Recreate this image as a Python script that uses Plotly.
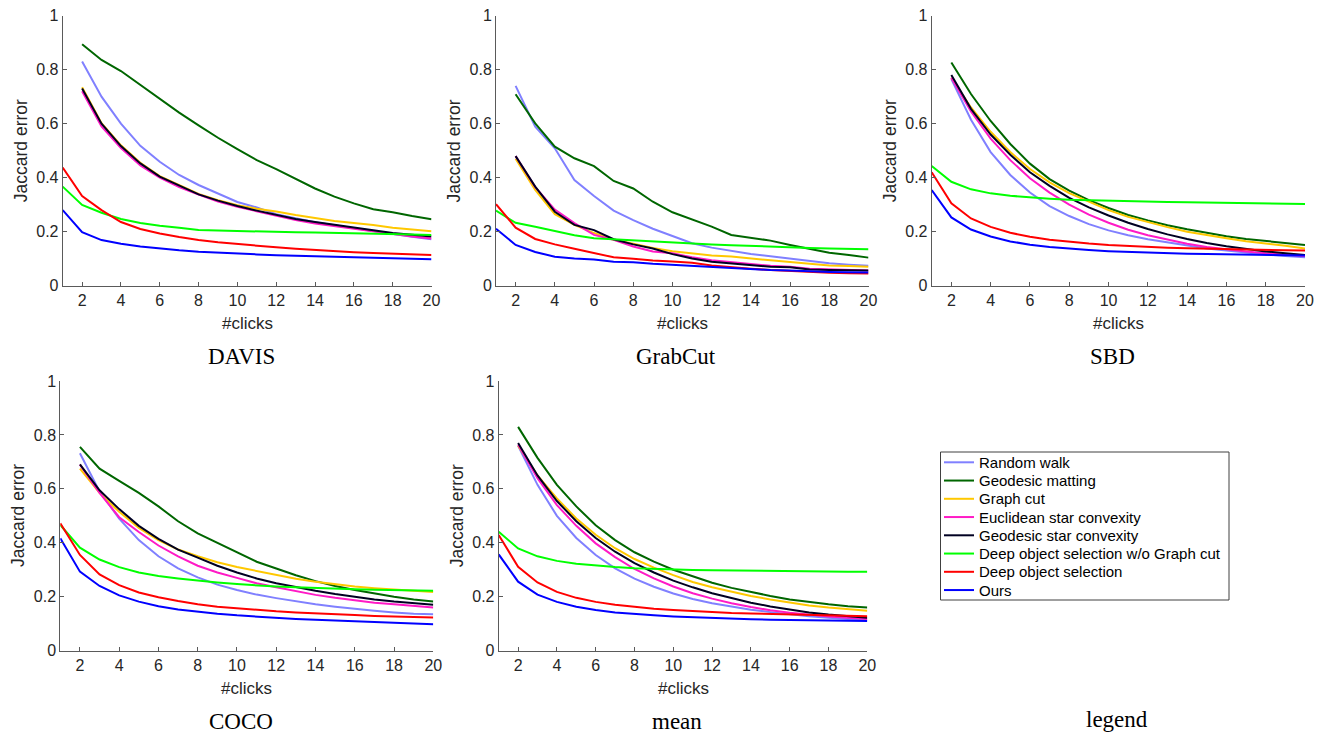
import plotly.graph_objects as go

clicks = list(range(1, 21))

methods = ["Random walk", "Geodesic matting", "Graph cut", "Euclidean star convexity",
           "Geodesic star convexity", "Deep object selection w/o Graph cut",
           "Deep object selection", "Ours"]
colors = ["#8080ff", "#006600", "#ffc800", "#ff1ac6", "#000022", "#00ff00", "#ff0000", "#0000ff"]

datasets = ["DAVIS", "GrabCut", "SBD", "COCO", "mean"]

N = None
# ---- DAVIS ----
davis_rw = [N, 0.83, 0.70, 0.60, 0.518, 0.459, 0.41, 0.373, 0.34, 0.31, 0.29, 0.265, 0.25, 0.235, 0.224, 0.213, 0.203, 0.192, 0.181, 0.172]
davis_gm = [N, 0.894, 0.836, 0.795, 0.743, 0.693, 0.641, 0.594, 0.548, 0.506, 0.465, 0.432, 0.395, 0.36, 0.33, 0.305, 0.283, 0.272, 0.258, 0.246]
davis_gc = [N, 0.735, 0.602, 0.52, 0.455, 0.406, 0.372, 0.34, 0.317, 0.298, 0.285, 0.275, 0.262, 0.25, 0.24, 0.232, 0.225, 0.215, 0.208, 0.202]
davis_esc = [N, 0.72, 0.59, 0.51, 0.445, 0.40, 0.365, 0.338, 0.312, 0.292, 0.275, 0.258, 0.243, 0.23, 0.22, 0.21, 0.20, 0.19, 0.182, 0.175]
davis_gsc = [N, 0.73, 0.60, 0.517, 0.453, 0.404, 0.37, 0.338, 0.315, 0.295, 0.278, 0.262, 0.247, 0.236, 0.225, 0.216, 0.205, 0.195, 0.188, 0.182]
davis_dosn = [0.367, 0.299, 0.27, 0.247, 0.232, 0.222, 0.215, 0.206, 0.204, 0.202, 0.201, 0.199, 0.198, 0.197, 0.196, 0.195, 0.194, 0.192, 0.19, 0.188]
davis_dos = [0.438, 0.332, 0.28, 0.236, 0.21, 0.193, 0.18, 0.169, 0.161, 0.154, 0.148, 0.142, 0.137, 0.132, 0.128, 0.124, 0.121, 0.118, 0.115, 0.114]
davis_ours = [0.28, 0.198, 0.169, 0.155, 0.145, 0.137, 0.131, 0.126, 0.122, 0.119, 0.116, 0.113, 0.111, 0.108, 0.106, 0.104, 0.102, 0.101, 0.099, 0.098]

# ---- GrabCut ----
grab_rw = [N, 0.74, 0.589, 0.509, 0.391, 0.332, 0.278, 0.243, 0.211, 0.184, 0.157, 0.141, 0.13, 0.117, 0.109, 0.101, 0.093, 0.083, 0.078, 0.074]
grab_gm = [N, 0.709, 0.601, 0.515, 0.472, 0.443, 0.388, 0.36, 0.311, 0.272, 0.246, 0.219, 0.188, 0.178, 0.167, 0.151, 0.136, 0.122, 0.114, 0.104]
grab_gc = [N, 0.47, 0.355, 0.265, 0.225, 0.195, 0.17, 0.155, 0.14, 0.128, 0.12, 0.112, 0.108, 0.10, 0.094, 0.088, 0.081, 0.075, 0.073, 0.07]
grab_esc = [N, 0.48, 0.365, 0.282, 0.232, 0.188, 0.17, 0.145, 0.127, 0.12, 0.105, 0.094, 0.086, 0.08, 0.074, 0.07, 0.063, 0.06, 0.058, 0.056]
grab_gsc = [N, 0.48, 0.367, 0.274, 0.225, 0.206, 0.172, 0.153, 0.138, 0.117, 0.101, 0.089, 0.083, 0.077, 0.07, 0.068, 0.06, 0.058, 0.057, 0.056]
grab_dosn = [0.278, 0.233, 0.218, 0.203, 0.187, 0.176, 0.172, 0.167, 0.163, 0.16, 0.156, 0.153, 0.15, 0.147, 0.145, 0.142, 0.14, 0.138, 0.137, 0.135]
grab_dos = [0.302, 0.215, 0.173, 0.153, 0.137, 0.121, 0.105, 0.10, 0.093, 0.09, 0.085, 0.075, 0.068, 0.063, 0.058, 0.054, 0.051, 0.048, 0.046, 0.045]
grab_ours = [0.211, 0.151, 0.125, 0.107, 0.101, 0.097, 0.089, 0.087, 0.081, 0.077, 0.072, 0.068, 0.064, 0.061, 0.058, 0.056, 0.053, 0.051, 0.05, 0.049]

# ---- SBD ----
sbd_rw = [N, 0.765, 0.615, 0.495, 0.41, 0.345, 0.295, 0.258, 0.228, 0.205, 0.187, 0.172, 0.16, 0.148, 0.138, 0.13, 0.122, 0.116, 0.11, 0.105]
sbd_gm = [N, 0.827, 0.71, 0.61, 0.525, 0.452, 0.395, 0.352, 0.317, 0.288, 0.262, 0.242, 0.224, 0.209, 0.195, 0.183, 0.173, 0.165, 0.158, 0.151]
sbd_gc = [N, 0.77, 0.66, 0.57, 0.495, 0.432, 0.383, 0.343, 0.31, 0.28, 0.255, 0.235, 0.217, 0.20, 0.187, 0.176, 0.165, 0.157, 0.148, 0.138]
sbd_esc = [N, 0.77, 0.645, 0.545, 0.465, 0.398, 0.345, 0.30, 0.263, 0.233, 0.207, 0.187, 0.17, 0.155, 0.143, 0.134, 0.127, 0.12, 0.115, 0.11]
sbd_gsc = [N, 0.78, 0.655, 0.56, 0.485, 0.42, 0.37, 0.325, 0.29, 0.26, 0.233, 0.21, 0.19, 0.173, 0.158, 0.146, 0.136, 0.127, 0.12, 0.114]
sbd_dosn = [0.443, 0.385, 0.357, 0.342, 0.333, 0.327, 0.322, 0.318, 0.316, 0.314, 0.312, 0.311, 0.31, 0.309, 0.308, 0.307, 0.306, 0.305, 0.304, 0.303]
sbd_dos = [0.42, 0.305, 0.249, 0.218, 0.196, 0.181, 0.17, 0.162, 0.156, 0.151, 0.147, 0.144, 0.141, 0.139, 0.137, 0.135, 0.133, 0.132, 0.131, 0.13]
sbd_ours = [0.354, 0.253, 0.208, 0.182, 0.164, 0.152, 0.143, 0.137, 0.132, 0.128, 0.125, 0.122, 0.12, 0.118, 0.117, 0.116, 0.115, 0.114, 0.113, 0.112]

# ---- COCO ----
coco_rw = [N, 0.732, 0.59, 0.49, 0.41, 0.35, 0.305, 0.272, 0.245, 0.225, 0.208, 0.195, 0.183, 0.172, 0.163, 0.155, 0.148, 0.142, 0.137, 0.135]
coco_gm = [N, 0.756, 0.675, 0.63, 0.585, 0.535, 0.48, 0.435, 0.40, 0.365, 0.33, 0.305, 0.28, 0.258, 0.24, 0.225, 0.212, 0.20, 0.19, 0.182]
coco_gc = [N, 0.675, 0.585, 0.515, 0.455, 0.41, 0.375, 0.35, 0.328, 0.31, 0.295, 0.28, 0.267, 0.256, 0.246, 0.238, 0.232, 0.227, 0.222, 0.218]
coco_esc = [N, 0.69, 0.585, 0.495, 0.44, 0.39, 0.35, 0.315, 0.29, 0.27, 0.25, 0.235, 0.22, 0.207, 0.196, 0.186, 0.178, 0.172, 0.166, 0.16]
coco_gsc = [N, 0.691, 0.595, 0.525, 0.463, 0.415, 0.375, 0.345, 0.315, 0.29, 0.268, 0.25, 0.235, 0.222, 0.21, 0.199, 0.19, 0.182, 0.176, 0.17]
coco_dosn = [0.466, 0.382, 0.338, 0.31, 0.29, 0.277, 0.268, 0.26, 0.253, 0.247, 0.242, 0.238, 0.235, 0.232, 0.23, 0.228, 0.226, 0.225, 0.223, 0.222]
coco_dos = [0.472, 0.355, 0.283, 0.243, 0.216, 0.198, 0.184, 0.172, 0.163, 0.157, 0.151, 0.146, 0.142, 0.138, 0.135, 0.132, 0.129, 0.127, 0.125, 0.123]
coco_ours = [0.417, 0.293, 0.24, 0.205, 0.182, 0.165, 0.153, 0.144, 0.137, 0.131, 0.126, 0.122, 0.118, 0.115, 0.112, 0.109, 0.106, 0.104, 0.102, 0.098]

# ---- mean ----
mean_rw = [N, 0.76, 0.615, 0.50, 0.418, 0.355, 0.305, 0.267, 0.237, 0.212, 0.192, 0.176, 0.163, 0.152, 0.143, 0.135, 0.128, 0.122, 0.117, 0.113]
mean_gm = [N, 0.83, 0.715, 0.615, 0.535, 0.465, 0.41, 0.365, 0.33, 0.30, 0.275, 0.252, 0.233, 0.217, 0.203, 0.19, 0.18, 0.172, 0.165, 0.16]
mean_gc = [N, 0.76, 0.65, 0.565, 0.49, 0.43, 0.38, 0.34, 0.308, 0.28, 0.255, 0.235, 0.218, 0.203, 0.19, 0.178, 0.168, 0.16, 0.153, 0.148]
mean_esc = [N, 0.765, 0.64, 0.54, 0.463, 0.398, 0.347, 0.303, 0.268, 0.238, 0.213, 0.193, 0.176, 0.162, 0.15, 0.141, 0.133, 0.127, 0.122, 0.118]
mean_gsc = [N, 0.77, 0.65, 0.555, 0.48, 0.418, 0.367, 0.325, 0.29, 0.26, 0.235, 0.213, 0.195, 0.178, 0.164, 0.152, 0.142, 0.134, 0.127, 0.122]
mean_dosn = [0.441, 0.379, 0.35, 0.333, 0.322, 0.315, 0.31, 0.306, 0.303, 0.301, 0.299, 0.298, 0.297, 0.296, 0.295, 0.294, 0.294, 0.293, 0.293, 0.293]
mean_dos = [0.429, 0.311, 0.253, 0.218, 0.196, 0.181, 0.17, 0.162, 0.156, 0.151, 0.147, 0.143, 0.14, 0.138, 0.136, 0.134, 0.132, 0.13, 0.129, 0.128]
mean_ours = [0.357, 0.256, 0.208, 0.181, 0.163, 0.151, 0.142, 0.136, 0.131, 0.127, 0.124, 0.121, 0.119, 0.117, 0.115, 0.114, 0.113, 0.112, 0.111, 0.11]

x_ticks = list(range(2, 21, 2))
y_ticks = [0, 0.2, 0.4, 0.6, 0.8, 1]
y_tick_text = ["0", "0.2", "0.4", "0.6", "0.8", "1"]

series = {
    "DAVIS": [davis_rw, davis_gm, davis_gc, davis_esc, davis_gsc, davis_dosn, davis_dos, davis_ours],
    "GrabCut": [grab_rw, grab_gm, grab_gc, grab_esc, grab_gsc, grab_dosn, grab_dos, grab_ours],
    "SBD": [sbd_rw, sbd_gm, sbd_gc, sbd_esc, sbd_gsc, sbd_dosn, sbd_dos, sbd_ours],
    "COCO": [coco_rw, coco_gm, coco_gc, coco_esc, coco_gsc, coco_dosn, coco_dos, coco_ours],
    "mean": [mean_rw, mean_gm, mean_gc, mean_esc, mean_gsc, mean_dosn, mean_dos, mean_ours],
}

W, H = 1320, 733


def px(x):
    return x / W


def py(y):
    return 1 - y / H


# screen-pixel boxes of the plot areas: (left, right, top, bottom)
boxes = [
    (62.7, 431.5, 15.7, 285.7),
    (496.0, 868.5, 15.7, 285.7),
    (931.7, 1305.0, 15.7, 285.7),
    (60.3, 433.3, 381.0, 650.7),
    (498.7, 867.3, 381.0, 650.7),
]

FONT = "Liberation Sans, Arial, Helvetica, sans-serif"
SERIF = "Liberation Serif, Times New Roman, serif"
TXT = "#262626"
AX = "#5a5a5a"

fig = go.Figure()
layout = dict(template="none", width=W, height=H, margin=dict(l=0, r=0, t=0, b=0, pad=0),
              paper_bgcolor="white", plot_bgcolor="white", showlegend=False)
annotations = []
shapes = []


def label(text, x, y, family, size, color, angle=0, xanchor="center"):
    return dict(text=text, x=px(x), y=py(y), xref="paper", yref="paper",
                xanchor=xanchor, yanchor="middle", showarrow=False, textangle=angle,
                font=dict(family=family, size=size, color=color))


for i, name in enumerate(datasets):
    k = "" if i == 0 else str(i + 1)
    l, r, t, b = boxes[i]
    layout["xaxis" + k] = dict(
        domain=[px(l), px(r)], anchor="y" + k, range=[1, 20], automargin=False,
        tickmode="array", tickvals=x_ticks, ticks="inside", ticklen=4, tickwidth=1,
        tickcolor=AX, showline=True, linecolor=AX, linewidth=1, mirror=False,
        showgrid=False, zeroline=False, ticklabeloverflow="allow",
        tickfont=dict(family=FONT, size=16, color=TXT), fixedrange=True)
    layout["yaxis" + k] = dict(
        domain=[py(b), py(t)], anchor="x" + k, range=[0, 1], automargin=False,
        tickmode="array", tickvals=y_ticks, ticktext=y_tick_text,
        ticks="inside", ticklen=4, tickwidth=1,
        tickcolor=AX, showline=True, linecolor=AX, linewidth=1, mirror=False,
        showgrid=False, zeroline=False, ticklabeloverflow="allow",
        tickfont=dict(family=FONT, size=16, color=TXT), fixedrange=True)
    for j, m in enumerate(methods):
        fig.add_trace(go.Scatter(
            x=clicks, y=series[name][j], mode="lines", name=m,
            line=dict(color=colors[j], width=2), connectgaps=False,
            showlegend=False, xaxis="x" + k, yaxis="y" + k))
    cx = (l + r) / 2
    annotations.append(label("#clicks", cx, b + 37.5, FONT, 17, TXT))
    annotations.append(label(name, cx - 6, b + 70.5, SERIF, 23, "black"))
    annotations.append(label("Jaccard error", l - 42.2, (t + b) / 2,
                             FONT, 17.5, TXT, angle=-90))

annotations.append(label("legend", 1117, 719, SERIF, 23, "black"))

# legend box (drawn in the sixth grid cell)
lg_l, lg_r, lg_t, lg_b = 940.5, 1229.0, 452.0, 600.0
shapes.append(dict(type="rect", xref="paper", yref="paper",
                   x0=px(lg_l), x1=px(lg_r), y0=py(lg_b), y1=py(lg_t),
                   line=dict(color="#404040", width=1), fillcolor="white", layer="above"))
row0, dy = 462.3, 18.25
for j, m in enumerate(methods):
    yy = row0 + j * dy
    shapes.append(dict(type="line", xref="paper", yref="paper",
                       x0=px(944), x1=px(974), y0=py(yy), y1=py(yy),
                       line=dict(color=colors[j], width=2), layer="above"))
    annotations.append(label(m, 976.5, yy, FONT, 15, "black", xanchor="left"))

layout["annotations"] = annotations
layout["shapes"] = shapes
fig.update_layout(**layout)
# remove the browser's default 8px body margin so the figure fills the window exactly
fig.write_html("out.html", config={"displayModeBar": False},
               post_script="document.body.style.margin='0';document.body.style.overflow='hidden';")
